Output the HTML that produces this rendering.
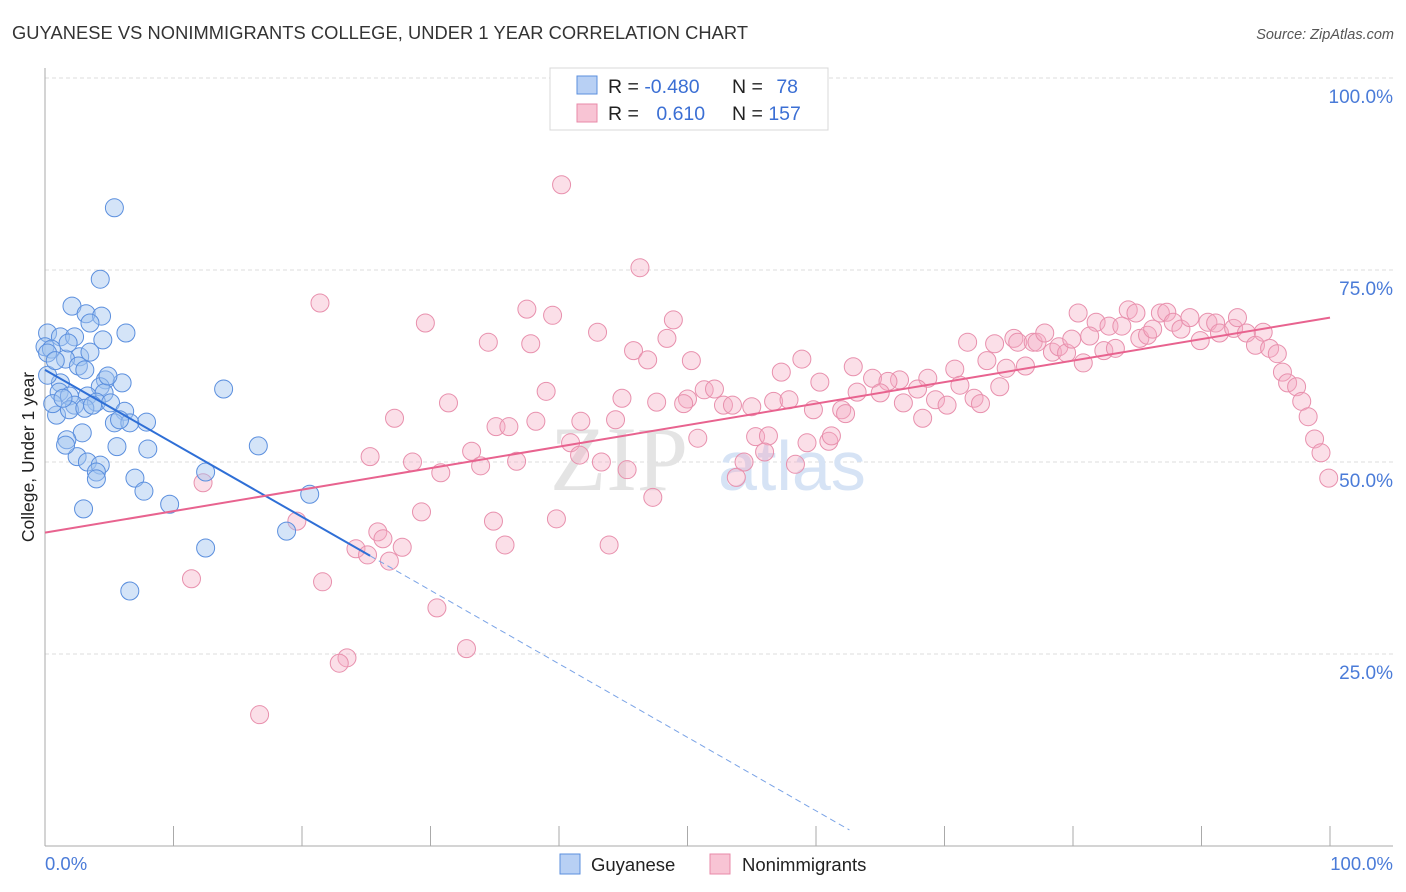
<!DOCTYPE html>
<html><head><meta charset="utf-8">
<style>
body{margin:0;background:#fff;font-family:"Liberation Sans",sans-serif;}
svg{display:block}
</style></head>
<body>
<svg id="chart" width="1406" height="892" xmlns="http://www.w3.org/2000/svg">
<text x="12" y="39" font-size="18.3" fill="#333" textLength="736">GUYANESE VS NONIMMIGRANTS COLLEGE, UNDER 1 YEAR CORRELATION CHART</text>
<text x="1394" y="39" font-size="14.5" fill="#555" font-style="italic" text-anchor="end">Source: ZipAtlas.com</text>
<g id="grid"></g>
<text x="688" y="490" font-size="92" fill="#e4e4e4" text-anchor="end" font-family="Liberation Serif,serif">ZIP</text>
<text x="718" y="490" font-size="70" fill="#d6e3f5">atlas</text>
<g id="pts"></g>
<g id="lines"></g>
<text transform="translate(34,457) rotate(-90)" font-size="17.5" fill="#222" text-anchor="middle">College, Under 1 year</text>
<text x="45" y="870" font-size="18.5" fill="#4a7bd8">0.0%</text>
<text x="1393" y="870" font-size="18.5" fill="#4a7bd8" text-anchor="end">100.0%</text>
<g>
<rect x="550" y="68" width="278" height="62" fill="#fff" stroke="#d8d8d8"/>
<rect x="577" y="76" width="20" height="18" fill="#b8d0f4" stroke="#5b8fde"/>
<rect x="577" y="104" width="20" height="18" fill="#f8c4d4" stroke="#e88aa8"/>
<text x="608" y="93" font-size="19.5" fill="#222">R = <tspan fill="#3b6fd4">-0.480</tspan></text>
<text x="732" y="93" font-size="19.5" fill="#222">N = <tspan fill="#3b6fd4" dx="8">78</tspan></text>
<text x="608" y="120" font-size="19.5" fill="#222">R = <tspan fill="#3b6fd4" dx="12">0.610</tspan></text>
<text x="732" y="120" font-size="19.5" fill="#222">N = <tspan fill="#3b6fd4">157</tspan></text>
</g>
<g>
<rect x="560" y="854" width="20" height="20" fill="#b8d0f4" stroke="#5b8fde"/>
<text x="591" y="871" font-size="18.5" fill="#222">Guyanese</text>
<rect x="710" y="854" width="20" height="20" fill="#f8c4d4" stroke="#e88aa8"/>
<text x="742" y="871" font-size="18.5" fill="#222">Nonimmigrants</text>
</g>
</svg>
<script>
const yTicks=[25,50,75,100];
const yTickLabels=["25.0%","50.0%","75.0%","100.0%"];
const xTicks=[0,10,20,30,40,50,60,70,80,90,100];
const blueX=[5.4,4.3,2.1,3.2,4.4,3.5,6.3,0.2,1.2,2.3,4.5,0,0.5,0.2,2.7,1.6,2.6,4.7,6.0,1.2,13.9,4.3,1.1,1.9,3.3,4.6,4.0,2.3,5.1,6.2,0.9,1.9,3.1,7.9,5.4,6.6,2.9,1.7,5.6,8.0,16.6,2.5,3.3,4.3,4.0,4.0,7.0,12.5,7.7,9.7,20.6,3.0,12.5,18.8,6.6,0.6,1.4,0.2,0.8,1.8,3.5,3.7,4.9,1.6,5.8,3.1];
const blueY=[83.1,73.8,70.3,69.3,69.0,68.1,66.8,66.8,66.3,66.3,65.9,65.0,64.7,64.2,63.7,63.4,62.5,60.7,60.3,60.3,59.5,59.8,59.1,58.6,58.6,59.0,57.8,57.4,57.7,56.6,56.1,56.8,57.0,55.2,55.1,55.1,53.8,52.9,52.0,51.7,52.1,50.7,50.0,49.6,48.7,47.8,47.9,48.7,46.2,44.5,45.8,43.9,38.8,41.0,33.2,57.6,58.3,61.3,63.2,65.5,64.3,57.4,61.2,52.2,55.5,62.0];
const pinkX=[40.2,46.3,21.4,37.5,39.5,29.6,48.9,43.0,34.5,37.8,48.4,45.8,46.9,50.3,58.9,57.3,60.3,39.0,44.9,47.6,50.0,51.3,52.1,49.7,31.4,52.8,53.5,55.0,56.7,57.9,59.8,62.0,62.3,27.2,38.2,41.7,44.4,35.1,36.1,55.3,56.3,50.8,40.9,59.3,61.0,61.2,33.2,25.3,28.6,43.3,36.7,33.9,41.6,30.8,45.3,56.0,54.4,58.4,53.8,12.3,47.3,29.3,19.6,34.9,39.8,25.9,26.3,27.8,35.8,43.9,24.2,25.1,26.8,11.4,21.6,30.5,32.8,23.5,22.9,16.7,
80.4,84.3,84.9,86.8,87.3,81.8,82.8,83.8,71.8,73.9,75.4,75.7,76.9,77.2,77.8,78.4,78.9,79.5,79.9,81.3,82.4,83.3,80.8,85.2,85.8,86.2,87.8,88.4,89.1,89.9,90.5,91.1,91.4,92.5,92.8,93.5,94.2,94.8,95.3,95.9,96.3,96.7,97.4,97.8,98.3,98.8,99.3,99.9,73.3,74.8,76.3,70.8,71.2,68.7,67.9,66.5,74.3,69.3,70.2,72.3,72.8,68.3,66.8,62.9,64.4,63.2,65.6,65.0];
const pinkY=[86.1,75.3,70.7,69.9,69.1,68.1,68.5,66.9,65.6,65.4,66.1,64.5,63.3,63.2,63.4,61.7,60.4,59.2,58.3,57.8,58.2,59.4,59.5,57.6,57.7,57.4,57.4,57.2,57.9,58.1,56.8,56.8,56.3,55.7,55.3,55.3,55.5,54.6,54.6,53.3,53.4,53.1,52.5,52.5,52.7,53.4,51.4,50.7,50.0,50.0,50.1,49.5,50.9,48.6,49.0,51.3,50.0,49.7,48.0,47.3,45.4,43.5,42.3,42.3,42.6,40.9,40.0,38.9,39.2,39.2,38.7,37.9,37.1,34.8,34.4,31.0,25.7,24.5,23.8,17.1,
69.4,69.8,69.4,69.4,69.5,68.2,67.7,67.7,65.6,65.4,66.1,65.6,65.6,65.6,66.8,64.3,65.0,64.2,66.0,66.4,64.5,64.8,62.9,66.1,66.5,67.3,68.2,67.3,68.8,65.8,68.2,68.1,66.8,67.4,68.8,66.8,65.2,66.9,64.8,64.1,61.7,60.3,59.8,57.9,55.9,53.0,51.2,47.9,63.2,62.2,62.5,62.1,60.0,60.9,59.5,60.7,59.8,58.1,57.4,58.3,57.6,55.7,57.7,62.4,60.9,59.1,60.5,59.0];
const blueTrend=[62.0,-0.957]; // intercept, slope
const blueSolidEnd=25.3, blueDashEnd=62.6;
const pinkTrend=[40.8,0.28];

const NS="http://www.w3.org/2000/svg";
const X=v=>45+v*12.85, Y=v=>846-v*7.68;
function mk(tag,attrs,parent){const e=document.createElementNS(NS,tag);for(const k in attrs)e.setAttribute(k,attrs[k]);parent.appendChild(e);return e;}
const grid=document.getElementById('grid');
yTicks.forEach((t,i)=>{
  const l=mk('line',{x1:45,x2:1393,y1:Y(t),y2:Y(t),stroke:'#dddddd','stroke-dasharray':'4,3'},grid);
  
  
  const tx=mk('text',{x:1393,y:Y(t)+25,'font-size':19,fill:'#4a7bd8','text-anchor':'end'},grid);
  tx.textContent=yTickLabels[i];
  
  
});
const ax=mk('line',{x1:45,x2:45,y1:68,y2:846,stroke:'#aaa'},grid);


const bx=mk('line',{x1:45,x2:1393,y1:846,y2:846,stroke:'#aaa'},grid);


xTicks.forEach(t=>{
  const l=mk('line',{x1:X(t),x2:X(t),y1:826,y2:846,stroke:'#aaa'},grid);
  
  
});
const pts=document.getElementById('pts');
pinkX.forEach((v,i)=>{
  const c=mk('circle',{cx:X(v),cy:Y(pinkY[i]),r:9,fill:'rgba(244,170,195,0.38)',stroke:'#e890ad','stroke-width':1},pts);
  
  
});
blueX.forEach((v,i)=>{
  const c=mk('circle',{cx:X(v),cy:Y(blueY[i]),r:9,fill:'rgba(160,195,240,0.45)',stroke:'#5b8fde','stroke-width':1},pts);
  
  
});
const lines=document.getElementById('lines');
const bt=x=>blueTrend[0]+blueTrend[1]*x, pt=x=>pinkTrend[0]+pinkTrend[1]*x;
const l1=mk('line',{x1:X(0),y1:Y(bt(0)),x2:X(blueSolidEnd),y2:Y(bt(blueSolidEnd)),stroke:'#2f6fd6','stroke-width':2},lines);


const l2=mk('line',{x1:X(blueSolidEnd),y1:Y(bt(blueSolidEnd)),x2:X(blueDashEnd),y2:Y(bt(blueDashEnd)),stroke:'#7aa3e6','stroke-width':1,'stroke-dasharray':'6,4'},lines);


const l3=mk('line',{x1:X(0),y1:Y(pt(0)),x2:X(100),y2:Y(pt(100)),stroke:'#e8638f','stroke-width':2},lines);


</script>
</body></html>
